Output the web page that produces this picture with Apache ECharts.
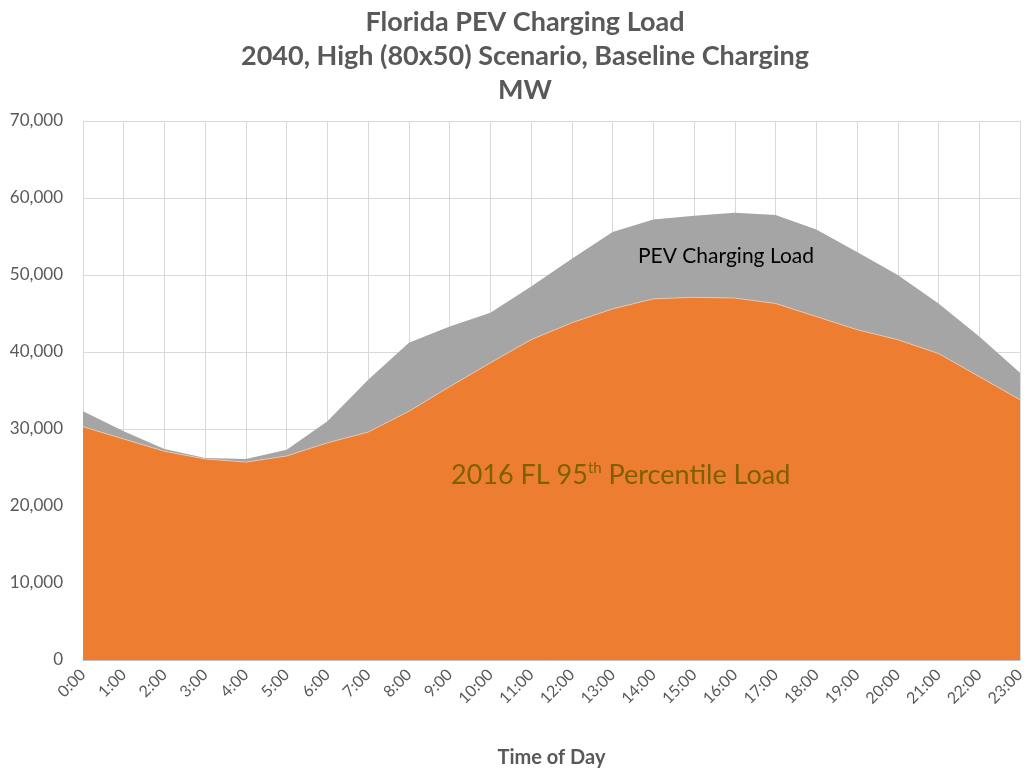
<!DOCTYPE html>
<html>
<head>
<meta charset="utf-8">
<script src="https://cdn.jsdelivr.net/npm/echarts@6/dist/echarts.min.js"></script>
<style>
  html, body { margin: 0; padding: 0; background: #fff; }
  #chart { width: 1028px; height: 771px; }
</style>
</head>
<body>
<div id="chart"></div>
<script>
// hours of the day
var hours = ["0:00", "1:00", "2:00", "3:00", "4:00", "5:00", "6:00", "7:00", "8:00", "9:00", "10:00", "11:00",
  "12:00", "13:00", "14:00", "15:00", "16:00", "17:00", "18:00", "19:00", "20:00", "21:00", "22:00", "23:00"];
// 2016 FL 95th percentile load (MW)
var baseLoad = [30300, 28700, 27100, 26100, 25700, 26500, 28200, 29600, 32300, 35500, 38600, 41600,
  43800, 45600, 46900, 47100, 47000, 46300, 44600, 42900, 41600, 39800, 36800, 33800];
// PEV charging load stacked on top (MW)
var pevLoad = [2000, 1000, 300, 150, 400, 800, 2800, 6800, 8900, 7800, 6500, 6900,
  8300, 10000, 10300, 10600, 11100, 11500, 11300, 10100, 8400, 6500, 5200, 3500];

var font = "Lato, 'Open Sans', sans-serif";
var textGray = "#595959";

var myChart = echarts.init(document.getElementById("chart"));
myChart.setOption({
  animation: false,
  title: {
    text: "Florida PEV Charging Load\n2040, High (80x50) Scenario, Baseline Charging\nMW",
    left: 520,
    textAlign: "center",
    top: 0,
    textStyle: {
      fontFamily: font,
      fontSize: 27,
      fontWeight: "bold",
      color: textGray,
      lineHeight: 34
    }
  },
  grid: {
    left: 83,
    right: 8,
    top: 121,
    bottom: 111,
    outerBoundsMode: "none"
  },
  xAxis: {
    type: "category",
    boundaryGap: false,
    data: hours,
    name: "Time of Day",
    nameLocation: "middle",
    nameGap: 88,
    nameTextStyle: {
      fontFamily: font,
      fontSize: 20,
      fontWeight: "bold",
      color: textGray
    },
    axisLine: { lineStyle: { color: "#bfbfbf", width: 1 } },
    axisTick: { show: false },
    axisLabel: {
      interval: 0,
      rotate: 45,
      margin: 12,
      fontFamily: font,
      fontSize: 16,
      color: textGray
    },
    splitLine: { show: true, lineStyle: { color: "#d9d9d9", width: 1 } }
  },
  yAxis: {
    type: "value",
    min: 0,
    max: 70000,
    interval: 10000,
    axisLine: { show: false },
    axisTick: { show: false },
    axisLabel: {
      margin: 20,
      fontFamily: font,
      fontSize: 17,
      color: textGray,
      formatter: function (v) { return v.toLocaleString("en-US"); }
    },
    splitLine: { lineStyle: { color: "#d9d9d9", width: 1 } }
  },
  series: [
    {
      name: "2016 FL 95th Percentile Load",
      type: "line",
      stack: "load",
      symbol: "none",
      data: baseLoad,
      lineStyle: { width: 0.8, color: "#f4c9a8" },
      areaStyle: { color: "#ED7D31", opacity: 1 }
    },
    {
      name: "PEV Charging Load",
      type: "line",
      stack: "load",
      symbol: "none",
      data: pevLoad,
      lineStyle: { width: 0 },
      areaStyle: { color: "#A5A5A5", opacity: 1 }
    }
  ],
  graphic: [
    {
      type: "text",
      z: 100,
      left: 638,
      top: 246,
      style: {
        text: "PEV Charging Load",
        font: "21px " + font,
        fill: "#000000"
      }
    },
    {
      type: "text",
      z: 100,
      left: 451,
      top: 461,
      style: {
        text: "{a|2016 FL 95}{s|th}{a| Percentile Load}",
        rich: {
          a: { fontFamily: font, fontSize: 27, fill: "#7F6000", verticalAlign: "bottom" },
          s: { fontFamily: font, fontSize: 15, fill: "#7F6000", verticalAlign: "top", padding: [0, 0, 13, 0] }
        }
      }
    }
  ]
});
</script>
</body>
</html>
